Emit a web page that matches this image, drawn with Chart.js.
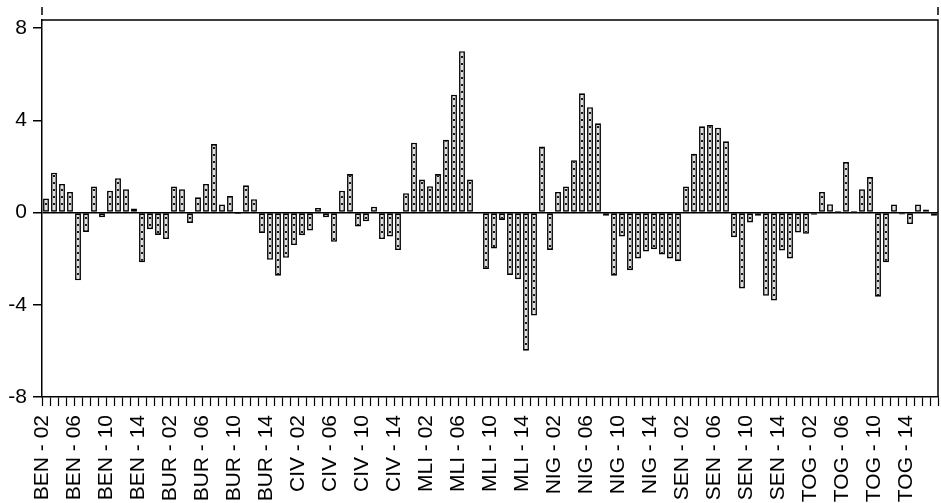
<!DOCTYPE html>
<html>
<head>
<meta charset="utf-8">
<script src="https://cdn.jsdelivr.net/npm/chart.js@4.4.0/dist/chart.umd.min.js"></script>
<style>
  html, body { margin: 0; padding: 0; background: #fff; }
  #wrap { position: relative; width: 941px; height: 503px; }
</style>
</head>
<body>
<div id="wrap"><canvas id="chart"></canvas></div>
<script>
// panel: 7 countries x 16 years (2002-2017), one bar per observation
const countries = ['BEN', 'BUR', 'CIV', 'MLI', 'NIG', 'SEN', 'TOG'];
const years = ['02', '03', '04', '05', '06', '07', '08', '09', '10', '11', '12', '13', '14', '15', '16', '17'];

const ben = [0.61, 1.73, 1.24, 0.89, -2.94, -0.84, 1.13, -0.20, 0.95, 1.49, 1.01, 0.17, -2.16, -0.72, -0.97, -1.15];
const bur = [1.13, 1.01, -0.45, 0.66, 1.24, 2.97, 0.35, 0.72, -0.06, 1.18, 0.58, -0.89, -2.05, -2.74, -1.96, -1.41];
const civ = [-0.98, -0.78, 0.20, -0.20, -1.27, 0.95, 1.67, -0.61, -0.38, 0.25, -1.15, -1.04, -1.63, 0.84, 3.03, 1.43];
const mli = [1.14, 1.67, 3.16, 5.11, 7.00, 1.43, -0.02, -2.45, -1.56, -0.32, -2.71, -2.89, -5.99, -4.47, 2.86, -1.62];
const nig = [0.89, 1.13, 2.27, 5.17, 4.57, 3.87, -0.14, -2.74, -1.04, -2.50, -1.99, -1.69, -1.59, -1.82, -1.99, -2.11];
const sen = [1.13, 2.55, 3.74, 3.80, 3.68, 3.09, -1.07, -3.29, -0.43, -0.14, -3.61, -3.82, -1.65, -1.99, -0.87, -0.92];
const tog = [-0.10, 0.89, 0.36, 0.07, 2.19, 0.07, 1.01, 1.54, -3.65, -2.16, 0.35, -0.09, -0.50, 0.35, 0.13, -0.14];

const yTicks = [-8, -4, 0, 4, 8];

const labels = countries.flatMap((c) => years.map((y) => `${c} - ${y}`));
const values = [].concat(ben, bur, civ, mli, nig, sen, tog);

// EViews-style fill: light grey with a dashed centre line, lined up on the bars
let fillPattern = null;
function barFill(ctx) {
    const xs = ctx.chart.scales.x;
    if (fillPattern) return fillPattern;
    const step = xs ? xs.getPixelForValue(1) - xs.getPixelForValue(0) : NaN;
    if (!(step > 2)) return '#e2e2e2';
    const c = document.createElement('canvas');
    c.width = Math.round(step);
    c.height = 7;
    const g = c.getContext('2d');
    g.fillStyle = '#e2e2e2';
    g.fillRect(0, 0, c.width, 7);
    g.fillStyle = '#1a1a1a';
    g.fillRect(0, 0, 2, 2);
    fillPattern = g.createPattern(c, 'repeat');
    const x0 = xs.getPixelForValue(0) - 1;
    fillPattern.setTransform(new DOMMatrix([1, 0, 0, 1, x0, 0]));
    return fillPattern;
}

const framePlugin = {
    id: 'frame',
    afterDraw(chart) {
        const { ctx, chartArea: a } = chart;
        ctx.save();
        ctx.strokeStyle = '#000';
        ctx.lineWidth = 1.5;
        ctx.beginPath();
        ctx.moveTo(a.left, a.top);
        ctx.lineTo(a.right, a.top);
        ctx.lineTo(a.right, a.bottom);
        // small stubs above the frame corners
        ctx.moveTo(a.left, a.top - 13);
        ctx.lineTo(a.left, a.top - 5);
        ctx.moveTo(a.right, a.top - 13);
        ctx.lineTo(a.right, a.top - 5);
        ctx.stroke();
        ctx.restore();
    },
};

const font = 'Liberation Sans, Arial, sans-serif';

new Chart(document.getElementById('chart'), {
    type: 'bar',
    data: {
        labels,
        datasets: [{
            data: values,
            backgroundColor: barFill,
            borderColor: '#000',
            borderWidth: 1.6,
            borderSkipped: false,
            barPercentage: 0.74,
            categoryPercentage: 1,
        }],
    },
    options: {
        responsive: true,
        maintainAspectRatio: false,
        animation: false,
        layout: { padding: { top: 20, right: 3, left: 0, bottom: 0 } },
        plugins: {
            legend: { display: false },
            tooltip: { enabled: false },
        },
        scales: {
            x: {
                offset: true,
                grid: {
                    display: true,
                    drawOnChartArea: false,
                    offset: true,
                    tickLength: 9,
                    tickColor: '#000',
                    tickWidth: 1.2,
                },
                border: { display: true, color: '#000', width: 1.5 },
                ticks: {
                    autoSkip: false,
                    minRotation: 90,
                    maxRotation: 90,
                    labelOffset: -4,
                    padding: 9,
                    color: '#000',
                    font: { family: font, size: 21 },
                    callback(v, i) {
                        return i % 4 === 0 ? this.getLabelForValue(v) : '';
                    },
                },
                afterFit(s) {
                    s.height = 106;
                    s.paddingLeft = 0;
                    s.paddingRight = 0;
                },
            },
            y: {
                min: -8,
                max: 8.35,
                afterBuildTicks(s) { s.ticks = yTicks.map((v) => ({ value: v })); },
                grid: {
                    drawOnChartArea: true,
                    color: (c) => (c.tick && c.tick.value === 0 ? '#000' : 'rgba(0,0,0,0)'),
                    lineWidth: 1.5,
                    tickColor: '#000',
                    tickLength: 9,
                },
                border: { display: true, color: '#000', width: 1.5 },
                ticks: {
                    padding: 6,
                    color: '#000',
                    font: { family: font, size: 21 },
                },
                afterFit(s) {
                    s.width = 42;
                    s.paddingTop = 0;
                    s.paddingBottom = 0;
                },
            },
        },
    },
    plugins: [framePlugin],
});
</script>
</body>
</html>
